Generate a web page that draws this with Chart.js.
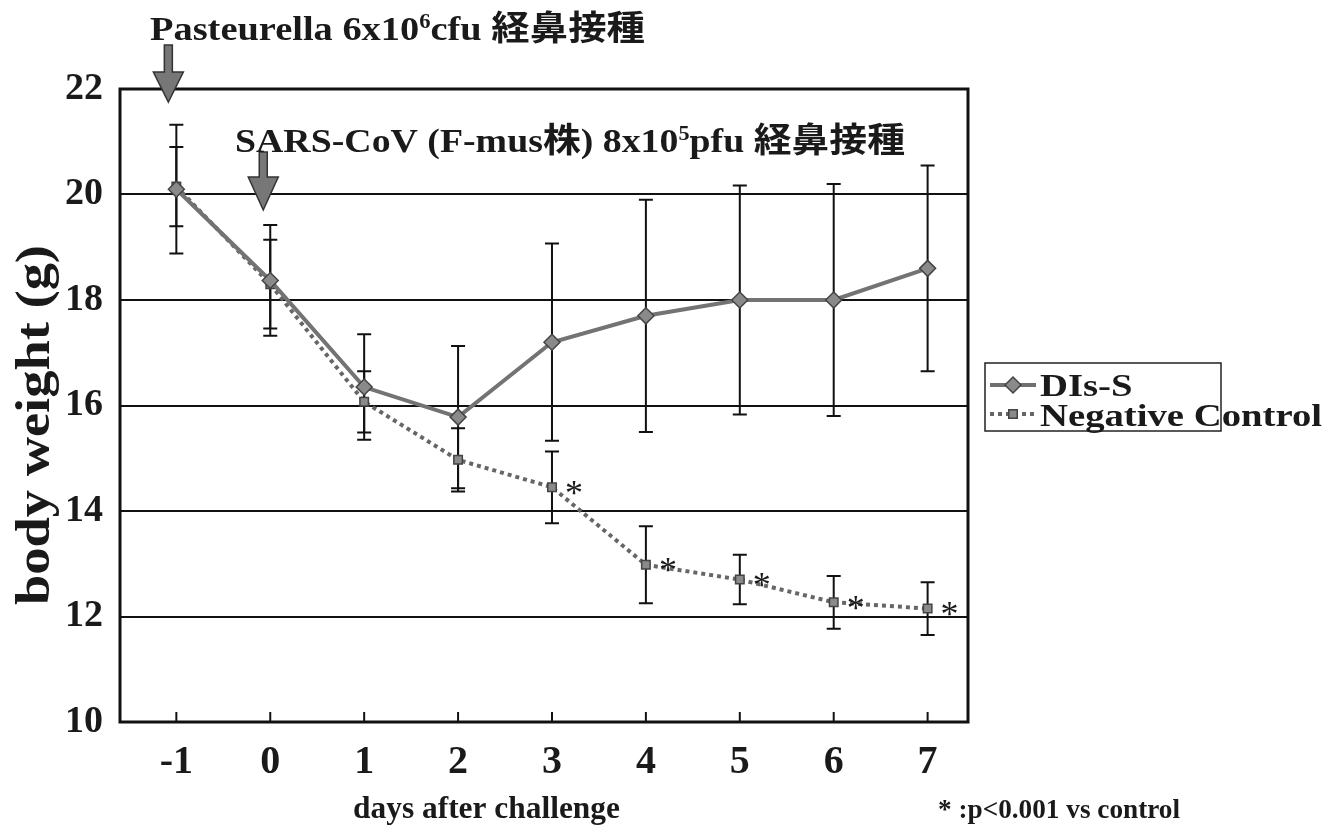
<!DOCTYPE html>
<html>
<head>
<meta charset="utf-8">
<script src="https://cdn.jsdelivr.net/npm/chart.js@4.4.1/dist/chart.umd.min.js"></script>
<style>
  html, body { margin: 0; padding: 0; background: #fff; }
  #wrap { width: 1332px; height: 837px; }
</style>
</head>
<body>
<div id="wrap"><canvas id="weightChart" width="1332" height="837"></canvas></div>
<script>
// --- data ---
const days = [-1, 0, 1, 2, 3, 4, 5, 6, 7];
const disMean = [20.1, 18.37, 16.35, 15.78, 17.2, 17.7, 18.0, 18.0, 18.6];
const disSd   = [1.22, 1.05, 1.0, 1.35, 1.87, 2.2, 2.17, 2.2, 1.95];
const ncMean  = [20.15, 18.3, 16.07, 14.97, 14.45, 12.98, 12.7, 12.27, 12.15];
const ncSd    = [0.75, 0.84, 0.58, 0.6, 0.68, 0.73, 0.47, 0.5, 0.5];
const sigDays = [3, 4, 5, 6, 7]; // p<0.001 vs control
const yTicks  = [10, 12, 14, 16, 18, 20, 22];
const seriesNames = ['DIs-S', 'Negative Control'];

const SERIF = '"Liberation Serif", "Times New Roman", serif';
const FONT_STACK = '"Liberation Serif", "Noto Sans CJK JP", serif';

// text squeezed/stretched horizontally to the width seen in the scan
function drawFitted(ctx, parts, x, y, targetW, size, weight, rot) {
    const font = s => `${weight} ${s}px ${FONT_STACK}`;
    ctx.save();
    let w = 0;
    parts.forEach(p => {
        ctx.font = font(p[1] ? Math.round(size * 0.6) : size);
        w += ctx.measureText(p[0]).width;
    });
    const sx = targetW ? targetW / w : 1;
    ctx.translate(x, y);
    if (rot) ctx.rotate(rot);
    ctx.scale(sx, 1);
    ctx.textAlign = 'left';
    ctx.textBaseline = 'alphabetic';
    ctx.fillStyle = '#1a1a1a';
    let cx = 0;
    parts.forEach(p => {
        ctx.font = font(p[1] ? Math.round(size * 0.6) : size);
        ctx.fillText(p[0], cx, p[1] ? -size * 0.36 : 0);
        cx += ctx.measureText(p[0]).width;
    });
    ctx.restore();
    return sx;
}

function drawArrow(ctx, x, yTop, yHead, yTip) {
    ctx.save();
    ctx.beginPath();
    ctx.moveTo(x - 4, yTop);
    ctx.lineTo(x + 4, yTop);
    ctx.lineTo(x + 4, yHead);
    ctx.lineTo(x + 15, yHead);
    ctx.lineTo(x, yTip);
    ctx.lineTo(x - 15, yHead);
    ctx.lineTo(x - 4, yHead);
    ctx.closePath();
    ctx.fillStyle = '#777';
    ctx.fill();
    ctx.strokeStyle = '#333';
    ctx.lineWidth = 1.5;
    ctx.stroke();
    ctx.restore();
}

// error bars under the lines
const errorBars = {
    id: 'errorBars',
    beforeDatasetsDraw(chart) {
        const ctx = chart.ctx;
        const ys = chart.scales.y;
        const sds = [disSd, ncSd];
        const means = [disMean, ncMean];
        ctx.save();
        ctx.strokeStyle = '#111';
        ctx.lineWidth = 2;
        [0, 1].forEach(i => {
            const meta = chart.getDatasetMeta(i);
            meta.data.forEach((pt, j) => {
                const top = ys.getPixelForValue(means[i][j] + sds[i][j]);
                const bot = ys.getPixelForValue(means[i][j] - sds[i][j]);
                ctx.beginPath();
                ctx.moveTo(pt.x, top); ctx.lineTo(pt.x, bot);
                ctx.moveTo(pt.x - 7, top); ctx.lineTo(pt.x + 7, top);
                ctx.moveTo(pt.x - 7, bot); ctx.lineTo(pt.x + 7, bot);
                ctx.stroke();
            });
        });
        ctx.restore();
    }
};

// frame, x ticks, asterisks, arrows, annotations, titles, legend
const decorations = {
    id: 'decorations',
    afterDraw(chart) {
        const ctx = chart.ctx;
        const a = chart.chartArea;
        const xs = chart.scales.x;
        const ys = chart.scales.y;

        ctx.save();
        ctx.strokeStyle = '#111';
        ctx.lineWidth = 3;
        ctx.strokeRect(a.left, a.top, a.right - a.left, a.bottom - a.top);

        ctx.lineWidth = 2;
        days.forEach(d => {
            const px = xs.getPixelForValue(d);
            ctx.beginPath();
            ctx.moveTo(px, a.bottom);
            ctx.lineTo(px, a.bottom - 10);
            ctx.stroke();
        });

        // significance marks
        ctx.fillStyle = '#1a1a1a';
        ctx.font = `36px ${SERIF}`;
        ctx.textAlign = 'center';
        ctx.textBaseline = 'middle';
        sigDays.forEach(d => {
            const j = days.indexOf(d);
            ctx.fillText('*', xs.getPixelForValue(d) + 22, ys.getPixelForValue(ncMean[j]) + 8);
        });
        ctx.restore();

        // inoculation arrows
        drawArrow(ctx, xs.getPixelForValue(-1) - 8, 45, 72, 102);
        drawArrow(ctx, xs.getPixelForValue(0) - 7, 152, 177, 210);

        drawFitted(ctx, [['Pasteurella 6x10'], ['6', true], ['cfu 経鼻接種']], 150, 40, 495, 34, 'bold');
        drawFitted(ctx, [['SARS-CoV (F-mus株) 8x10'], ['5', true], ['pfu 経鼻接種']], 235, 152, 670, 34, 'bold');

        // axis titles
        drawFitted(ctx, [['days after challenge']], 353, 818, 267, 32, 'bold');
        drawFitted(ctx, [['body weight (g)']], 49, 605, 360, 48, 'bold', -Math.PI / 2);

        // footnote
        drawFitted(ctx, [['* :p<0.001 vs control']], 938, 818, 242, 27, 'bold');

        // legend
        ctx.save();
        ctx.strokeStyle = '#222';
        ctx.lineWidth = 1.5;
        ctx.strokeRect(985, 363, 236, 68);
        const rows = [
            { y: 385, dash: [], style: 'rectRot', r: 8 },
            { y: 414, dash: [4, 4], style: 'rect', r: 6 }
        ];
        rows.forEach((row, i) => {
            ctx.save();
            ctx.strokeStyle = i === 0 ? '#6f6f6f' : '#666';
            ctx.lineWidth = 4;
            ctx.setLineDash(row.dash);
            ctx.beginPath();
            ctx.moveTo(990, row.y);
            ctx.lineTo(1036, row.y);
            ctx.stroke();
            ctx.restore();
            ctx.fillStyle = '#8a8a8a';
            ctx.strokeStyle = '#444';
            ctx.lineWidth = 1.5;
            Chart.helpers.drawPoint(ctx, { pointStyle: row.style, radius: row.r, borderWidth: 1.5 }, 1013, row.y);
        });
        ctx.restore();
        const sx = drawFitted(ctx, [[seriesNames[1]]], 1040, 426, 282, 32, 'bold');
        ctx.save();
        ctx.translate(1040, 396);
        ctx.scale(sx, 1);
        ctx.font = `bold 32px ${SERIF}`;
        ctx.fillStyle = '#1a1a1a';
        ctx.fillText(seriesNames[0], 0, 0);
        ctx.restore();
    }
};

const ctx = document.getElementById('weightChart').getContext('2d');
new Chart(ctx, {
    type: 'line',
    data: {
        datasets: [{
            label: seriesNames[0],
            data: days.map((d, i) => ({ x: d, y: disMean[i] })),
            borderColor: '#737373',
            borderWidth: 4,
            pointStyle: 'rectRot',
            pointRadius: 8,
            pointBackgroundColor: '#8a8a8a',
            pointBorderColor: '#444',
            pointBorderWidth: 1.5,
            tension: 0
        }, {
            label: seriesNames[1],
            data: days.map((d, i) => ({ x: d, y: ncMean[i] })),
            borderColor: '#666',
            borderWidth: 4,
            borderDash: [4, 4],
            pointStyle: 'rect',
            pointRadius: 6,
            pointBackgroundColor: '#8a8a8a',
            pointBorderColor: '#444',
            pointBorderWidth: 1.5,
            tension: 0
        }]
    },
    options: {
        responsive: false,
        animation: false,
        events: [],
        layout: { padding: { left: 0, top: 89, right: 364, bottom: 0 } },
        plugins: { legend: { display: false }, tooltip: { enabled: false } },
        scales: {
            x: {
                type: 'linear',
                min: -1.6,
                max: 7.43,
                afterBuildTicks: s => { s.ticks = days.map(v => ({ value: v })); },
                afterFit: s => { s.height = 115; },
                grid: { display: false },
                border: { display: false },
                ticks: {
                    autoSkip: false,
                    padding: 9,
                    color: '#1a1a1a',
                    font: { family: SERIF, size: 40, weight: 'bold' }
                }
            },
            y: {
                min: 10,
                max: 22,
                afterBuildTicks: s => { s.ticks = yTicks.map(v => ({ value: v })); },
                afterFit: s => { s.width = 120; },
                grid: { color: '#111', lineWidth: 2, drawTicks: false },
                border: { display: false },
                ticks: {
                    padding: 17,
                    color: '#1a1a1a',
                    font: { family: SERIF, size: 38, weight: 'bold' }
                }
            }
        }
    },
    plugins: [errorBars, decorations]
});
</script>
</body>
</html>
